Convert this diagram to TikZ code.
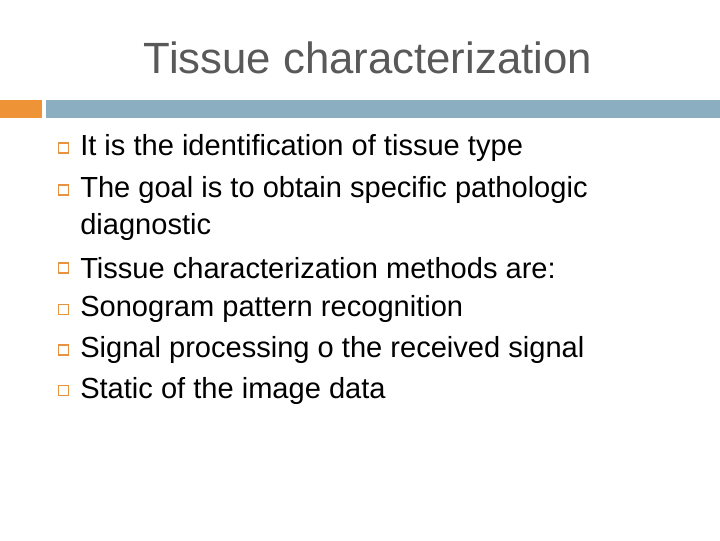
\documentclass[tikz,border=0pt]{standalone}
\usepackage{fontspec}
\setmainfont{Liberation Sans}
\begin{document}
\begin{tikzpicture}[x=1pt,y=-1pt,
  txt/.style={anchor=west,inner sep=0,font=\fontsize{21.8}{26}\selectfont},
  bul/.style={draw=orange!55!brown!85,line width=0.9pt,minimum size=7.5pt,inner sep=0}]
\useasboundingbox (0,0) rectangle (540,405);
\fill[white] (0,0) rectangle (540,405);
\node[inner sep=0,text=black!65,font=\fontsize{32.8}{38}\selectfont] (title) at (276,43.5) {Tissue characterization};
\fill[orange!70!brown!85] (0,75) rectangle (31.5,88.5);
\fill[blue!35!cyan!30!gray!70] (34.5,75) rectangle (540,88.5);
\foreach \y/\t [count=\i] in {111/It is the identification of tissue type,
  142.5/The goal is to obtain specific pathologic,
  201/Tissue characterization methods are:,
  232/Sonogram pattern recognition,
  262.5/Signal processing o the received signal,
  293/Static of the image data}{
  \node[bul] (b\i) at (47.5,\y) {};
  \node[txt] (t\i) at (60,\y) {\t};
}
\node[txt] (t2b) at (60,170) {diagnostic};
\end{tikzpicture}
\end{document}
